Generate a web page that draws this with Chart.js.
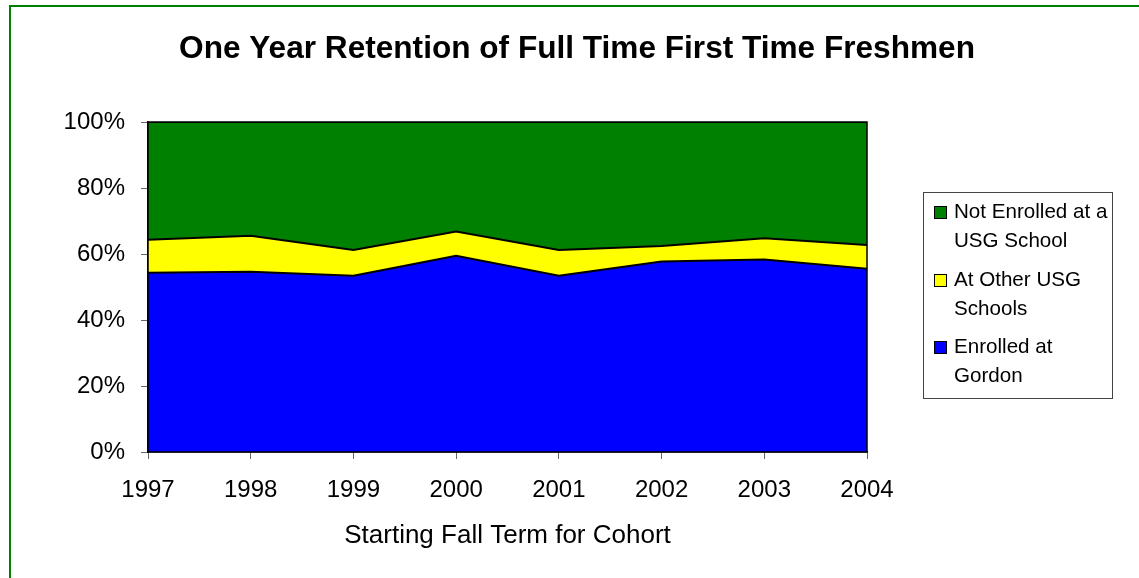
<!DOCTYPE html>
<html>
<head>
<meta charset="utf-8">
<script src="https://cdn.jsdelivr.net/npm/chart.js@4.4.0/dist/chart.umd.min.js"></script>
<style>
html,body{margin:0;padding:0;background:#fff;overflow:hidden;}
#wrap{position:relative;width:1139px;height:578px;overflow:hidden;}
#frame{position:absolute;left:9px;top:5px;width:1200px;height:640px;border:2px solid #008000;box-sizing:border-box;pointer-events:none;}
canvas{position:absolute;left:0;top:0;}
</style>
</head>
<body>
<div id="wrap">
<canvas id="c" width="1139" height="578"></canvas>
<div id="frame"></div>
</div>
<script>
const chartTitle = 'One Year Retention of Full Time First Time Freshmen';
const xAxisTitle = 'Starting Fall Term for Cohort';
const categories = ['1997','1998','1999','2000','2001','2002','2003','2004'];
const enrolledGordon = [54.3, 54.6, 53.4, 59.5, 53.4, 57.7, 58.3, 55.5];
const otherUSG = [10.0, 10.9, 7.8, 7.3, 7.8, 4.7, 6.5, 7.2];
const notEnrolled = [35.7, 34.5, 38.8, 33.2, 38.8, 37.6, 35.2, 37.3];
const yTickValues = [0, 20, 40, 60, 80, 100];
const legendLines = [
  ['Not Enrolled at a', 'USG School'],
  ['At Other USG', 'Schools'],
  ['Enrolled at', 'Gordon']
];

const FONT = 'Arial, "Liberation Sans", sans-serif';

const decor = {
  id: 'decor',
  afterDatasetsDraw(chart) {
    const ctx = chart.ctx, a = chart.chartArea;
    ctx.save();
    ctx.strokeStyle = '#000';
    ctx.lineWidth = 1.5;
    ctx.strokeRect(a.left, a.top, a.right - a.left, a.bottom - a.top);
    ctx.restore();
  },
  afterDraw(chart) {
    const ctx = chart.ctx, a = chart.chartArea;
    ctx.save();
    ctx.fillStyle = '#000';
    ctx.textAlign = 'center';
    ctx.textBaseline = 'alphabetic';
    ctx.font = 'bold 31.6px ' + FONT;
    ctx.fillText(chartTitle, 577, 58);
    ctx.font = '26px ' + FONT;
    ctx.fillText(xAxisTitle, (a.left + a.right) / 2, 543);

    // legend
    const lx = 923, ly = 192, lw = 189, lh = 206;
    ctx.strokeStyle = '#444';
    ctx.lineWidth = 1;
    ctx.strokeRect(lx + 0.5, ly + 0.5, lw, lh);
    const ds = chart.data.datasets;
    const order = [2, 1, 0];
    const baselines = [218, 286, 353];
    ctx.textAlign = 'left';
    ctx.font = '20.6px ' + FONT;
    order.forEach((di, i) => {
      const b = baselines[i];
      ctx.fillStyle = ds[di].backgroundColor;
      ctx.fillRect(934, b - 12, 12, 12);
      ctx.strokeStyle = '#000';
      ctx.strokeRect(934.5, b - 11.5, 12, 12);
      ctx.fillStyle = '#000';
      legendLines[i].forEach((t, j) => ctx.fillText(t, 954, b + j * 29));
    });
    ctx.restore();
  }
};

new Chart(document.getElementById('c'), {
  type: 'line',
  data: {
    labels: categories,
    datasets: [
      { label: 'Enrolled at Gordon', data: enrolledGordon, backgroundColor: '#0000FF', borderColor: '#000', borderWidth: 2, fill: 'origin', pointRadius: 0, tension: 0 },
      { label: 'At Other USG Schools', data: otherUSG, backgroundColor: '#FFFF00', borderColor: '#000', borderWidth: 2, fill: '-1', pointRadius: 0, tension: 0 },
      { label: 'Not Enrolled at a USG School', data: notEnrolled, backgroundColor: '#008000', borderColor: '#000', borderWidth: 2, fill: '-1', pointRadius: 0, tension: 0 }
    ]
  },
  options: {
    responsive: false,
    animation: false,
    layout: { padding: { left: 10, right: 272, top: 122, bottom: 0 } },
    plugins: { legend: { display: false }, title: { display: false }, tooltip: { enabled: false } },
    scales: {
      x: {
        offset: false,
        grid: { drawOnChartArea: false, tickLength: 7, color: '#666', tickColor: '#666' },
        border: { display: true, color: '#000', width: 1.5 },
        ticks: { color: '#000', font: { family: FONT, size: 24 }, padding: 17, maxRotation: 0, autoSkip: false },
        afterFit(s) { s.height = 126; }
      },
      y: {
        stacked: true,
        min: 0, max: 100,
        afterBuildTicks(s) { s.ticks = yTickValues.map(v => ({ value: v })); },
        grid: { drawOnChartArea: false, tickLength: 7, color: '#666', tickColor: '#666' },
        border: { display: true, color: '#000', width: 1.5 },
        ticks: { color: '#000', font: { family: FONT, size: 24 }, padding: 16, callback: v => v + '%' },
        afterFit(s) { s.width = 138; }
      }
    }
  },
  plugins: [decor]
});
</script>
</body>
</html>
